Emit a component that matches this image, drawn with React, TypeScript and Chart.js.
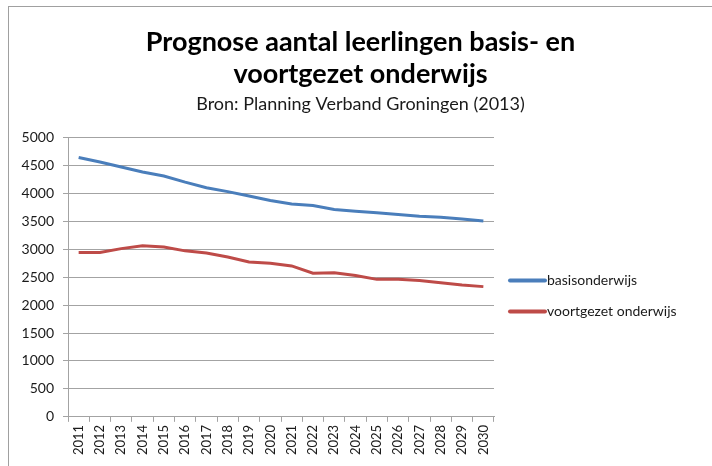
import React, { useEffect, useRef } from "react";
import { Chart, registerables } from "chart.js";

Chart.register(...registerables);

const years = [
  "2011", "2012", "2013", "2014", "2015", "2016", "2017", "2018", "2019", "2020",
  "2021", "2022", "2023", "2024", "2025", "2026", "2027", "2028", "2029", "2030",
];

const basisonderwijs = [
  4640, 4560, 4470, 4380, 4310, 4200, 4100, 4030, 3950, 3870,
  3810, 3780, 3710, 3680, 3650, 3620, 3590, 3570, 3540, 3505,
];

const voortgezetOnderwijs = [
  2940, 2940, 3010, 3060, 3040, 2970, 2930, 2860, 2770, 2750,
  2700, 2570, 2580, 2530, 2460, 2460, 2440, 2400, 2360, 2330,
];

const titleLines = ["Prognose aantal leerlingen basis- en", "voortgezet onderwijs"];
const subtitleText = "Bron: Planning Verband Groningen (2013)";
const seriesNames = ["basisonderwijs", "voortgezet onderwijs"];

const FONT = "Lato, 'Open Sans', sans-serif";
const GRID = "#a3a3a3";
const TEXT = "#1a1a1a";

const sideLegend = {
  id: "sideLegend",
  afterDraw(chart: any) {
    const ctx = chart.ctx;
    const area = chart.chartArea;
    const x0 = area.right + 16;
    const lineLen = 35;
    const spacing = 31;
    const mid = (area.top + area.bottom) / 2 + 19;
    const datasets = chart.data.datasets;
    const startY = mid - ((datasets.length - 1) * spacing) / 2;
    ctx.save();
    ctx.font = `14px ${FONT}`;
    ctx.textBaseline = "middle";
    ctx.textAlign = "left";
    datasets.forEach((ds: any, i: number) => {
      const y = startY + i * spacing;
      ctx.strokeStyle = ds.borderColor;
      ctx.lineWidth = 4;
      ctx.lineCap = "round";
      ctx.beginPath();
      ctx.moveTo(x0, y);
      ctx.lineTo(x0 + lineLen, y);
      ctx.stroke();
      ctx.fillStyle = TEXT;
      ctx.fillText(ds.label, x0 + lineLen + 2, y);
    });
    ctx.restore();
  },
};

export default function App() {
  const ref = useRef<HTMLCanvasElement | null>(null);

  useEffect(() => {
    if (!ref.current) return;
    const chart = new Chart(ref.current, {
      type: "line",
      data: {
        labels: years,
        datasets: [
          {
            label: seriesNames[0],
            data: basisonderwijs,
            borderColor: "#4a7ebb",
            backgroundColor: "#4a7ebb",
            borderWidth: 3,
            pointRadius: 0,
            tension: 0,
          },
          {
            label: seriesNames[1],
            data: voortgezetOnderwijs,
            borderColor: "#be4b48",
            backgroundColor: "#be4b48",
            borderWidth: 3,
            pointRadius: 0,
            tension: 0,
          },
        ],
      },
      plugins: [sideLegend],
      options: {
        animation: false,
        responsive: false,
        maintainAspectRatio: false,
        layout: { padding: { left: 0, right: 0, top: 0, bottom: 8 } },
        plugins: {
          title: {
            display: true,
            text: titleLines,
            color: "#000",
            font: { family: FONT, size: 27, weight: "bold", lineHeight: 1.2 },
            padding: { top: 19, bottom: 0 },
          },
          subtitle: {
            display: true,
            text: subtitleText,
            color: TEXT,
            font: { family: FONT, size: 18, lineHeight: 1.2 },
            padding: { top: 3, bottom: 22 },
          },
          legend: { display: false },
          tooltip: { enabled: false },
        },
        scales: {
          x: {
            offset: true,
            grid: {
              offset: true,
              drawOnChartArea: false,
              drawTicks: true,
              tickLength: 5,
              color: GRID,
            },
            border: { color: GRID },
            ticks: {
              color: TEXT,
              font: { family: FONT, size: 13 },
              maxRotation: 90,
              minRotation: 90,
              padding: 3,
              autoSkip: false,
            },
          },
          y: {
            min: 0,
            max: 5000,
            afterFit(scale: any) {
              scale.width = 59;
            },
            grid: { color: GRID, tickLength: 5 },
            border: { color: GRID },
            ticks: {
              stepSize: 500,
              color: TEXT,
              font: { family: FONT, size: 14 },
              padding: 9,
              callback: (v: any) => String(v),
            },
          },
          legendSpace: {
            type: "linear",
            position: "right",
            min: 0,
            max: 1,
            afterFit(scale: any) {
              scale.width = 218;
            },
            grid: { display: false, drawOnChartArea: false },
            border: { display: false },
            ticks: { display: false },
          },
        },
      },
    });
    return () => chart.destroy();
  }, []);

  return (
    <div
      style={{
        position: "absolute",
        left: 8,
        top: 6,
        width: 704,
        height: 460,
        borderLeft: "1px solid #a0a0a0",
        borderTop: "1px solid #a0a0a0",
        boxSizing: "border-box",
        background: "#fff",
        overflow: "hidden",
      }}
    >
      <canvas ref={ref} width={703} height={459} style={{ display: "block" }} />
    </div>
  );
}
